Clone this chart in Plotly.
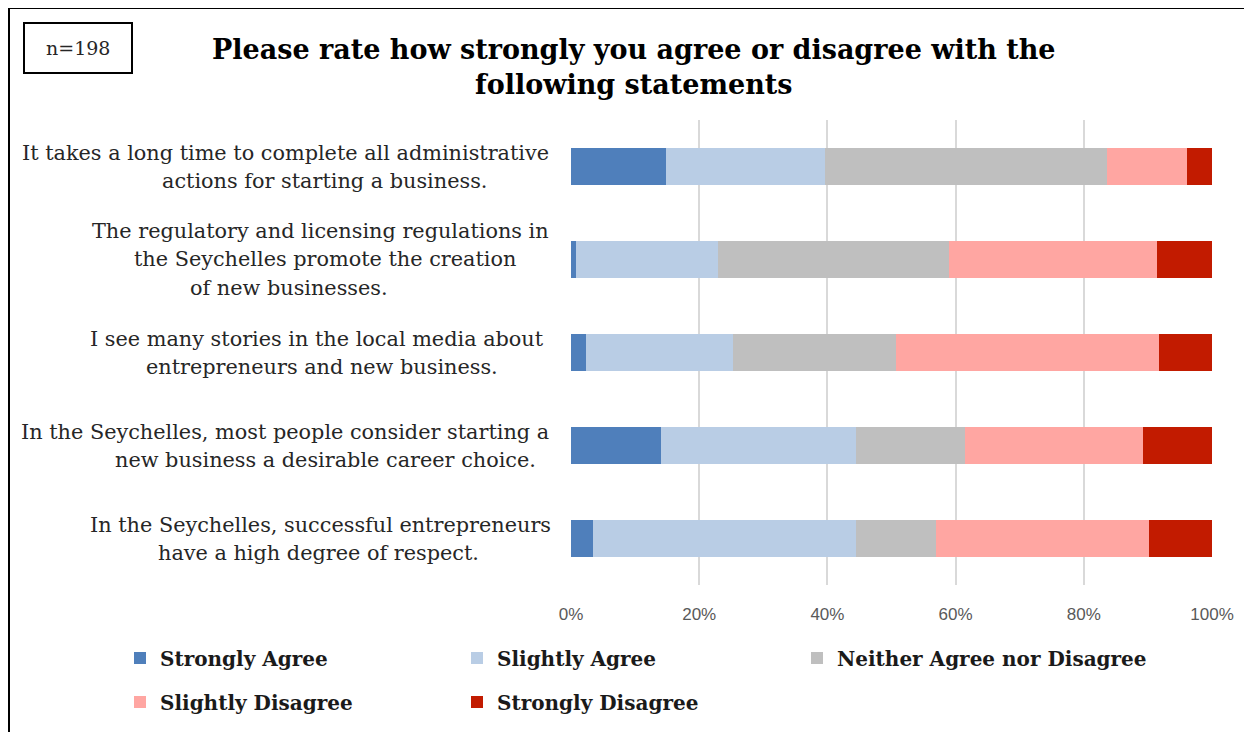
import plotly.graph_objects as go

# ---- data ----
statements = [
    "It takes a long time to complete all administrative actions for starting a business.",
    "The regulatory and licensing regulations in the Seychelles promote the creation of new businesses.",
    "I see many stories in the local media about entrepreneurs and new business.",
    "In the Seychelles, most people consider starting a new business a desirable career choice.",
    "In the Seychelles, successful entrepreneurs have a high degree of respect.",
]
label_lines = [
    ["It takes a long time to complete all administrative", "actions for starting a business."],
    ["The regulatory and licensing regulations in", "the Seychelles promote the creation", "of new businesses."],
    ["I see many stories in the local media about", "entrepreneurs and new business."],
    ["In the Seychelles, most people consider starting a", "new business a desirable career choice."],
    ["In the Seychelles, successful entrepreneurs", "have a high degree of respect."],
]
series_names = ["Strongly Agree", "Slightly Agree", "Neither Agree nor Disagree",
                "Slightly Disagree", "Strongly Disagree"]
strongly_agree = [14.8, 0.8, 2.3, 14.1, 3.4]
slightly_agree = [24.8, 22.2, 22.9, 30.4, 41.1]
neither = [44.0, 35.9, 25.5, 16.9, 12.5]
slightly_disagree = [12.5, 32.5, 41.0, 27.8, 33.2]
strongly_disagree = [3.9, 8.6, 8.3, 10.8, 9.8]
tick_values = [0, 20, 40, 60, 80, 100]
tick_labels = ["0%", "20%", "40%", "60%", "80%", "100%"]
title_text = "Please rate how strongly you agree or disagree with the<br>following statements"
n_text = "n=198"

colors = ["#4f7fbb", "#b9cde5", "#bfbfbf", "#ffa6a2", "#c21b00"]
series_values = [strongly_agree, slightly_agree, neither, slightly_disagree, strongly_disagree]
legend_ids = ["legend", "legend", "legend3", "legend2", "legend2"]

OFF = 8  # page body margin
PW, PH = 1252, 732
W, H = PW - OFF, PH - OFF
L, R, T, B = 571, 1212, 120, 585  # plot area pixel bounds (page coords)


def px_x(px):
    return (px - L) / (R - L)


def px_y(py):
    return (B - py) / (B - T)


fig = go.Figure()
for name, vals, col, lg in zip(series_names, series_values, colors, legend_ids):
    fig.add_trace(go.Bar(
        y=statements, x=vals, name="<b>" + name + "</b>", orientation="h",
        marker=dict(color=col, line=dict(width=0)),
        legend=lg, hoverinfo="x+name",
    ))

serif = "DejaVu Serif"
annotations = []
line_centers = [
    [285, 324],
    [320, 325, 289],
    [317, 322],
    [285, 325],
    [320, 318],
]
line_shift = {2: [14, -14], 3: [29, 1, -28]}
for stmt, lines, centers in zip(statements, label_lines, line_centers):
    shifts = line_shift[len(lines)]
    for ln, cx, sh in zip(lines, centers, shifts):
        annotations.append(dict(
            text=ln, xref="paper", x=px_x(cx), xanchor="center",
            yref="y", y=stmt, yanchor="middle", yshift=sh,
            showarrow=False, font=dict(family=serif, size=20.8, color="#262626"),
        ))

annotations.append(dict(
    text=n_text, xref="paper", yref="paper", x=px_x(78), y=px_y(48),
    xanchor="center", yanchor="middle", showarrow=False,
    font=dict(family=serif, size=19, color="#262626"),
))

# title as a centered annotation
annotations.append(dict(
    text="<b>" + title_text + "</b>", xref="paper", yref="paper",
    x=px_x(634), y=px_y(67), xanchor="center", yanchor="middle",
    showarrow=False, align="center",
    font=dict(family=serif, size=27, color="#000000"),
))

shapes = [
    dict(type="rect", xref="paper", yref="paper", x0=px_x(24), x1=px_x(132),
         y0=px_y(73), y1=px_y(23), line=dict(color="#000000", width=2)),
    dict(type="line", xref="paper", yref="paper", x0=px_x(9), x1=px_x(1260),
         y0=px_y(8), y1=px_y(8), line=dict(color="#000000", width=2)),
    dict(type="line", xref="paper", yref="paper", x0=px_x(9), x1=px_x(9),
         y0=px_y(8), y1=px_y(740), line=dict(color="#000000", width=2)),
]

legend_font = dict(family=serif, size=20, color="#1a1a1a")
common_legend = dict(orientation="h", xanchor="left", yanchor="middle",
                     entrywidth=292, entrywidthmode="pixels", font=legend_font,
                     traceorder="normal", bgcolor="rgba(0,0,0,0)")
fig.update_layout(
    width=W, height=H,
    margin=dict(l=L - OFF, r=PW - R, t=T - OFF, b=PH - B, autoexpand=False),
    barmode="stack",
    bargap=0.6,
    plot_bgcolor="white", paper_bgcolor="white",
    xaxis=dict(range=[0, 100], tickvals=tick_values, ticktext=tick_labels,
               showgrid=True, gridcolor="#d9d9d9", gridwidth=2,
               zeroline=False, showline=False, ticks="",
               ticklabelstandoff=17,
               tickfont=dict(family="Liberation Sans", size=17, color="#595959")),
    yaxis=dict(categoryorder="array", categoryarray=statements, autorange="reversed",
               showticklabels=False, showgrid=False, zeroline=False, showline=False),
    legend=dict(x=px_x(120), y=px_y(658), **common_legend),
    legend2=dict(x=px_x(120), y=px_y(702), **common_legend),
    legend3=dict(x=px_x(797), y=px_y(658), **{**common_legend, "entrywidth": 340}),
    annotations=annotations,
    shapes=shapes,
    showlegend=True,
)

fig.write_html("out.html")
